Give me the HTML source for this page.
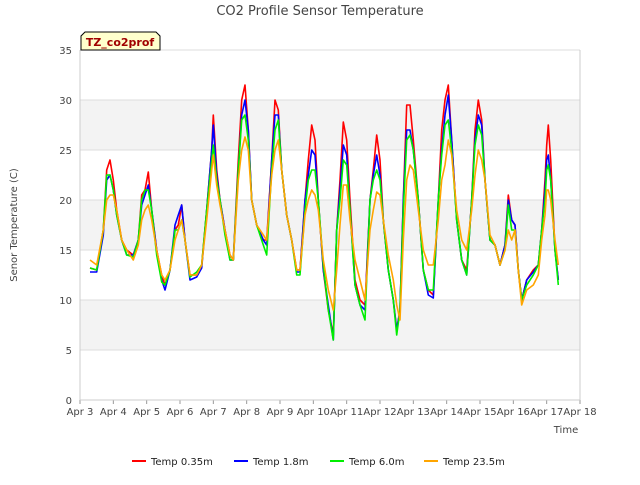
<!DOCTYPE html>
<html><head><meta charset="utf-8"><style>
body{margin:0;background:#fff;font-family:"Liberation Sans","DejaVu Sans",sans-serif}
</style></head><body>
<svg id="chart" width="640" height="480" xmlns="http://www.w3.org/2000/svg" font-family="DejaVu Sans, Liberation Sans, sans-serif">
<rect width="640" height="480" fill="#fff"/>
<text x="320" y="15" text-anchor="middle" font-size="13" fill="#444">CO2 Profile Sensor Temperature</text>
<text transform="translate(17,225) rotate(-90)" text-anchor="middle" font-size="10" fill="#444">Senor Temperature (C)</text>
<text x="566" y="433" text-anchor="middle" font-size="10" fill="#444">Time</text>
<g id="plot"></g>
<g>
<path d="M81,50 L81,36 L85,32 L156,32 L160,36 L160,50 Z" fill="#ffffcc" stroke="#000" stroke-width="1"/>
<text x="120" y="46" text-anchor="middle" font-size="11" font-weight="bold" fill="#a00000">TZ_co2prof</text>
</g>
<g id="legend"></g>
</svg>
<script>
const times=[0.3,0.5,0.7,0.8,0.9,1.0,1.1,1.25,1.4,1.6,1.75,1.85,1.95,2.05,2.15,2.3,2.45,2.55,2.7,2.85,2.95,3.05,3.15,3.3,3.5,3.65,3.8,3.95,4.0,4.1,4.2,4.35,4.5,4.6,4.75,4.85,4.95,5.05,5.15,5.3,5.5,5.6,5.75,5.85,5.95,6.05,6.2,6.35,6.5,6.6,6.75,6.85,6.95,7.05,7.15,7.3,7.45,7.6,7.7,7.8,7.9,8.0,8.1,8.25,8.4,8.55,8.7,8.8,8.9,9.0,9.1,9.25,9.4,9.5,9.6,9.7,9.8,9.9,10.0,10.15,10.3,10.45,10.6,10.75,10.85,10.95,11.05,11.15,11.3,11.45,11.6,11.75,11.85,11.95,12.05,12.15,12.3,12.45,12.6,12.75,12.85,12.95,13.05,13.15,13.25,13.4,13.6,13.75,13.85,13.95,14.0,14.05,14.12,14.25,14.35];
const temp035=[13.2,13,17,23,24,22,19,16,15,14.5,16,20.5,21,22.8,19,15,12.5,11.5,13,17,17.5,19.5,16,12.5,12.5,13.5,19,25,28.5,23,20,17,14.5,14,24,30,31.5,27,20,17.5,16,16,24,30,29,23,18.5,16,13,13,20,24,27.5,26,20,13,9,6.5,17,22,27.8,26,20,12,10,9.5,20,23,26.5,24,18,13,10,7,9,20,29.5,29.5,26,20,13,11,10.5,20,27,30,31.5,26,18,14,13,20,27,30,28,22,16,15.5,13.5,15.5,20.5,18,17.5,13,10,12,13,13.5,17,22,25.5,27.5,24,15,12];
const temp18=[12.8,12.8,16.5,22,22.5,21,18.5,16,14.5,14.5,16,19.5,20.5,21.5,19,15,12,11,13,17.5,18.5,19.5,16,12,12.3,13.2,19,25,27.5,22.5,20,17,14,14,23,28.5,30,27,20,17.5,16,15.5,24,28.5,28.5,23,18.5,16,12.8,12.8,20,22.5,25,24.5,20,13,9.5,6,17,21,25.5,24.5,19,11.5,9.5,9,20,22.5,24.5,22.5,18,13,10,7,9,20,27,27,25,20,13,10.5,10.2,20,25,28.5,30.5,26,18,14,12.5,20,26,28.5,27.5,22,16,15.5,13.5,15.5,20,18,17.5,13,10,12,12.8,13.5,17,21,24,24.5,22,15,12];
const temp60=[13.2,13,17,22.5,22.5,21,18.5,16,14.5,14.3,16,20,21,21,19,14.5,11.8,11.5,13,17,17,18,16,12.3,12.8,13.5,19,24,25.5,22,20,16.5,14,14,23,28,28.5,26,20,17.5,15.5,14.5,23,27,28,23,18.5,16,12.5,12.5,19,22,23,23,20,13.5,9,6,17,20,24,23.5,19,11.5,9.5,8,20,22,23,22,18,13,10,6.5,9,19,26,26.5,25,20,13,11,11,20,24.5,27.5,28,25,18,14,12.5,20,25.5,27.5,26.5,22,16,15.5,13.5,15,19.5,17,17,13,10,11.5,12.5,13.5,17,20,23,23.5,22,15,11.5];
const temp235=[14,13.5,17,20,20.5,20.5,19,16,15,14,15.5,18,19,19.5,18,15,12.5,12,13,16,17,18,16,12.5,12.5,13.5,18,23,24.5,21.5,19.5,17,14.5,14,22,25,26.3,25,20,17.5,16.5,16,22.5,25,26,23,18.5,16,13,13,18.5,20,21,20.5,19,14,11,9,13,17.5,21.5,21.5,18,14,12,10,17,19,20.8,20.5,18,14.5,12,9.5,8,16,22,23.5,23,19,15,13.5,13.5,18,22,23.5,26,24.5,19,16,15,19,22.5,25,24,22,16.5,15.5,13.5,15,17,16,17,13,9.5,11,11.5,12.5,16,18.5,21,21,20,16,13.5];
const yTicks=[0,5,10,15,20,25,30,35];
const xTickLabels=["Apr 3","Apr 4","Apr 5","Apr 6","Apr 7","Apr 8","Apr 9","Apr 10","Apr 11","Apr 12","Apr 13","Apr 14","Apr 15","Apr 16","Apr 17","Apr 18"];
const seriesNames=["Temp 0.35m","Temp 1.8m","Temp 6.0m","Temp 23.5m"];
const seriesColors=["#ff0000","#0000ff","#00ee00","#ffa500"];
const NS="http://www.w3.org/2000/svg";
const L=80,R=580,T=50,B=400;
const xs=d=>L+(R-L)*d/15;
const ys=v=>B-(B-T)*v/35;
const plot=document.getElementById('plot');
function mk(tag,attrs,parent){const e=document.createElementNS(NS,tag);for(const k in attrs)e.setAttribute(k,attrs[k]);parent.appendChild(e);return e;}
mk('rect',{x:L,y:T,width:R-L,height:B-T,fill:'#fff'},plot);
for(let i=0;i<yTicks.length-1;i++){if(i%2===1){const b=mk('rect',{x:L,y:ys(yTicks[i+1]),width:R-L,height:ys(yTicks[i])-ys(yTicks[i+1]),fill:'#f3f3f3'},plot);

}}
yTicks.forEach(v=>{const g=mk('line',{x1:L,x2:R,y1:ys(v),y2:ys(v),stroke:'#dddddd','stroke-width':1},plot);


const t=mk('text',{x:L-8,y:ys(v)+4,'text-anchor':'end','font-size':10,fill:'#444'},plot);t.textContent=v;

});
xTickLabels.forEach((s,i)=>{mk('line',{x1:xs(i),x2:xs(i),y1:B,y2:B+4,stroke:'#999'},plot);
const t=mk('text',{x:xs(i),y:B+15,'text-anchor':'middle','font-size':10,fill:'#444'},plot);t.textContent=s;

});
mk('line',{x1:L,x2:L,y1:T,y2:B,stroke:'#ccc'},plot);
mk('line',{x1:R,x2:R,y1:T,y2:B,stroke:'#ccc'},plot);
mk('line',{x1:L,x2:R,y1:B,y2:B,stroke:'#ccc'},plot);
[temp035,temp18,temp60,temp235].forEach((arr,si)=>{
const d=arr.map((v,i)=>(i?'L':'M')+xs(times[i]).toFixed(1)+','+ys(v).toFixed(1)).join(' ');
const p=mk('path',{d:d,fill:'none',stroke:seriesColors[si],'stroke-width':1.6,'stroke-linejoin':'round'},plot);

});
const leg=document.getElementById('legend');
const lx=[132,234,330,424];
seriesNames.forEach((n,i)=>{const g=mk('g',{},leg);


mk('line',{x1:lx[i],x2:lx[i]+14,y1:461,y2:461,stroke:seriesColors[i],'stroke-width':2},g);
const t=mk('text',{x:lx[i]+19,y:465,'font-size':10,fill:'#222'},g);t.textContent=n;});
</script>
</body></html>
